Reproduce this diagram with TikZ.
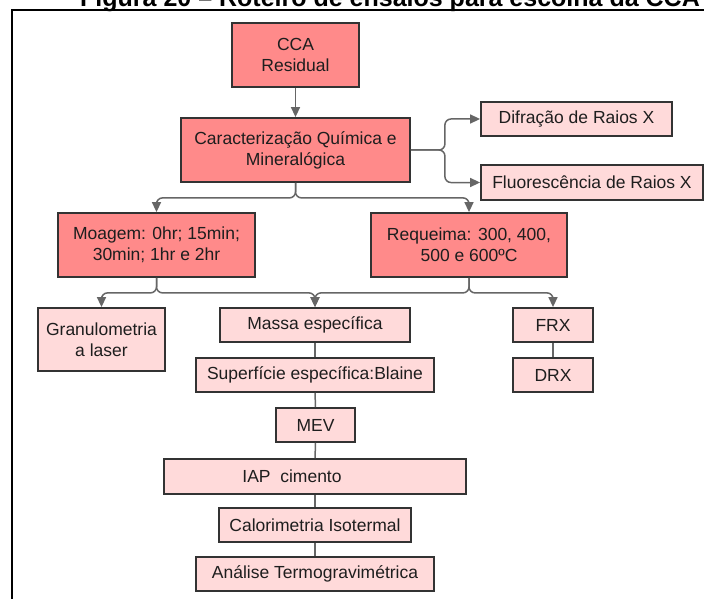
\documentclass[tikz,border=0pt]{standalone}
\usepackage{fontspec}
\setmainfont{Liberation Sans}
\usetikzlibrary{arrows.meta}
\definecolor{darkfill}{HTML}{FF8A8A}
\definecolor{lightfill}{HTML}{FFDADA}
\definecolor{edge}{HTML}{333333}
\definecolor{conncol}{HTML}{666666}
\definecolor{txt}{HTML}{1E1E1E}
\tikzset{
  boxbase/.style={draw=edge, line width=1.8pt, inner sep=0pt, align=center, text=txt,
     font=\fontsize{17.5}{21}\selectfont},
  darkbox/.style={boxbase, fill=darkfill},
  lightbox/.style={boxbase, fill=lightfill},
  conn/.style={draw=conncol, line width=1.5pt, rounded corners=6pt},
  arr/.style={conn, -{Triangle[width=9pt,length=10pt]}},
}
\begin{document}
\begin{tikzpicture}[x=1pt,y=-1pt]
\useasboundingbox (0,0) rectangle (704,599);
% frame and (cut) title
\node[anchor=base west, inner sep=0pt, font=\bfseries\fontsize{25}{30}\selectfont] (title) at (80,7) {Figura 20 – Roteiro de ensaios para escolha da CCA};
\draw[line width=2pt] (12,620) -- (12,10) -- (720,10);
% nodes
\node[darkbox, minimum width=127pt, minimum height=64pt] (cca) at (295.5,55) {CCA\\Residual};
\node[darkbox, minimum width=229pt, minimum height=64pt] (car) at (295.5,150) {Caracterização Química e\\Mineralógica};
\node[lightbox, minimum width=191pt, minimum height=34pt] (dif) at (576.5,119) {Difração de Raios X};
\node[lightbox, minimum width=222pt, minimum height=35pt] (flu) at (592,182.5) {Fluorescência de Raios X};
\node[darkbox, minimum width=197pt, minimum height=64pt] (moa) at (156.5,245) {Moagem: 0hr; 15min;\\30min; 1hr e 2hr};
\node[darkbox, minimum width=196pt, minimum height=64pt] (req) at (469,245) {Requeima: 300, 400,\\500 e 600ºC};
\node[lightbox, minimum width=127pt, minimum height=63pt] (gra) at (101.5,339.5) {Granulometria\\a laser};
\node[lightbox, minimum width=190pt, minimum height=34pt] (mas) at (315,325) {Massa específica};
\node[lightbox, minimum width=238pt, minimum height=34pt] (sup) at (315,375) {Superfície específica:Blaine};
\node[lightbox, minimum width=79pt, minimum height=34pt] (mev) at (315.5,425) {MEV};
\node[lightbox, minimum width=302pt, minimum height=35pt] (iap) at (315,476.5) {IAP\ \ cimento\hspace*{46pt}};
\node[lightbox, minimum width=192pt, minimum height=34pt] (cal) at (315,525) {Calorimetria Isotermal};
\node[lightbox, minimum width=238pt, minimum height=34pt] (ana) at (315,574) {Análise Termogravimétrica};
\node[lightbox, minimum width=80pt, minimum height=34pt] (frx) at (553,325) {FRX};
\node[lightbox, minimum width=80pt, minimum height=34pt] (drx) at (553,375) {DRX};
% connectors
\draw[arr] (cca) -- (car);
\draw[arr] (car.east) -- ++(34,0) |- (dif.west);
\draw[arr] (car.east) -- ++(34,0) |- (flu.west);
\draw[arr] (car.south) -- ++(0,15) -| (moa.north);
\draw[arr] (car.south) -- ++(0,15) -| (req.north);
\draw[arr] (moa.south) -- ++(0,15) -| (gra.north);
\draw[arr] (moa.south) -- ++(0,15) -| (mas.north);
\draw[arr] (req.south) -- ++(0,15) -| (mas.north);
\draw[arr] (req.south) -- ++(0,15) -| (frx.north);
\draw[conn] (mas) -- (sup);
\draw[conn] (sup) -- (mev);
\draw[conn] (mev) -- (iap);
\draw[conn] (iap) -- (cal);
\draw[conn] (cal) -- (ana);
\draw[conn] (frx) -- (drx);
\end{tikzpicture}
\end{document}
